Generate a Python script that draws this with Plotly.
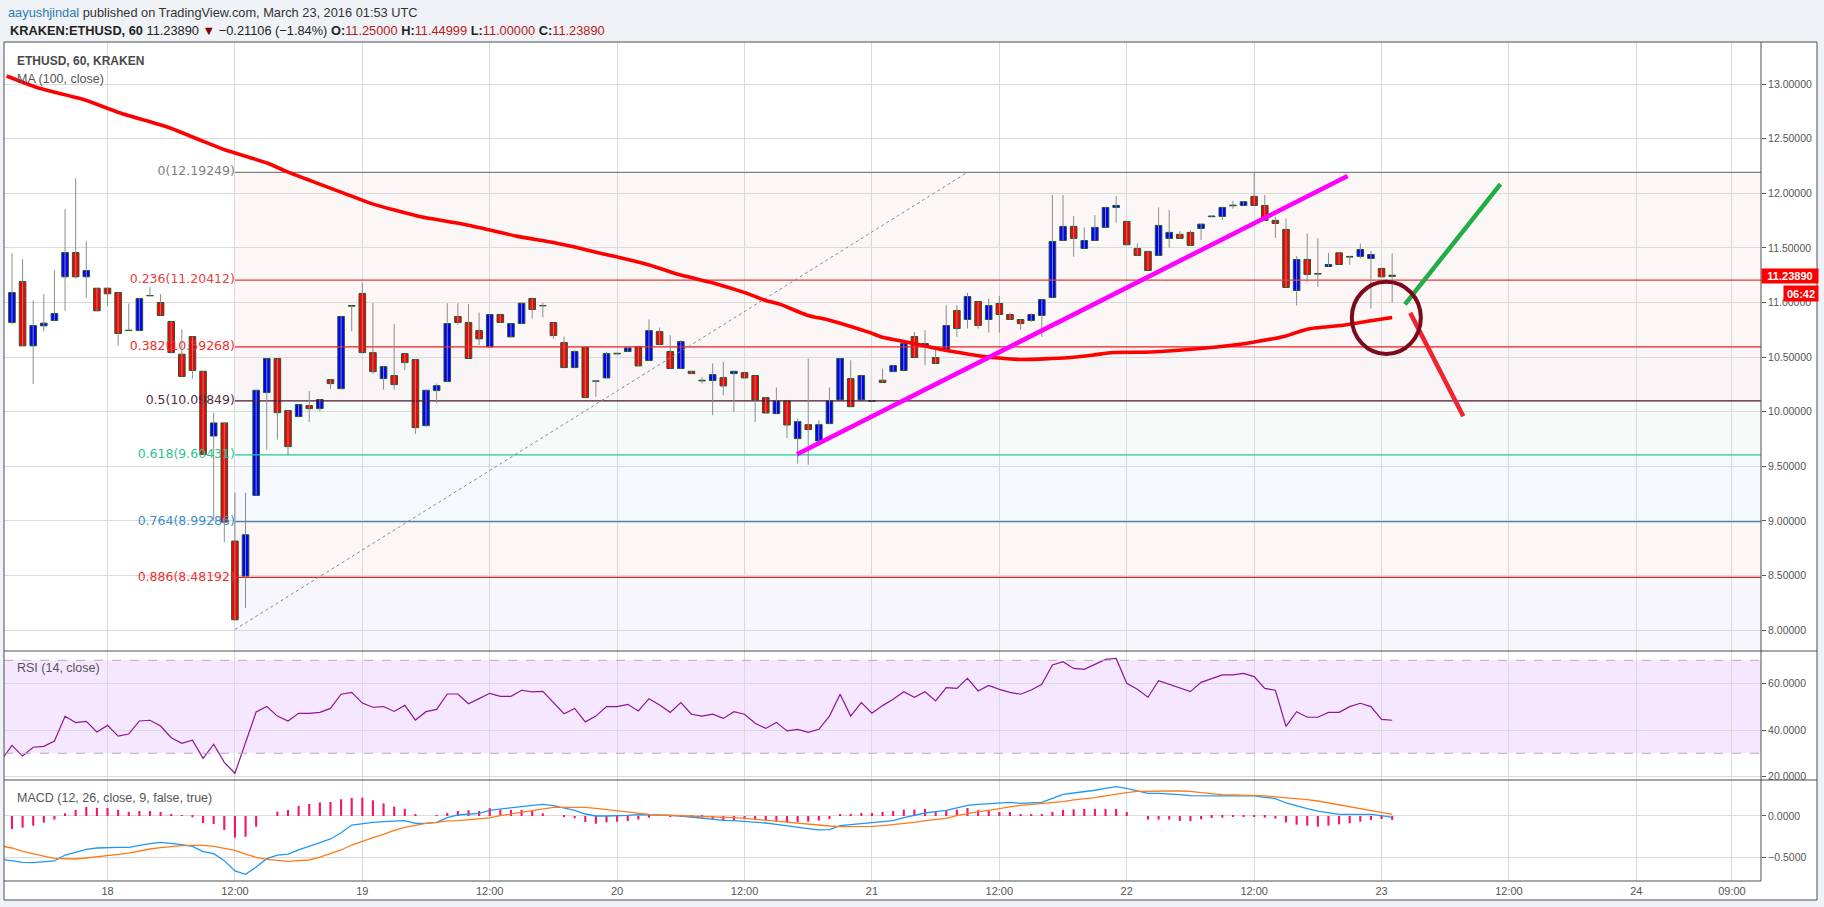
import plotly.graph_objects as go
import pandas as pd

# ---------------- DATA ----------------
first_candle = "2016-03-17 15:00"   # hourly candles (KRAKEN:ETHUSD, 60)
opens = [10.817, 11.192, 10.603, 10.786, 10.835, 11.235, 11.458, 11.235, 11.131, 11.131,
         11.092, 10.743, 10.743, 11.061, 11.000, 10.826, 10.526, 10.688, 10.370, 9.777,
         9.897, 8.815, 8.494, 9.233, 10.175, 10.487, 10.010, 9.955, 10.056, 10.028,
         10.294, 10.211, 10.972, 11.083, 10.541, 10.303, 10.331, 10.532, 10.477, 9.872,
         10.193, 10.276, 10.872, 10.817, 10.743, 10.594, 10.890, 10.685, 10.807, 11.037,
         10.969, 10.817, 10.633, 10.404, 10.587, 10.282, 10.309, 10.535, 10.551, 10.594,
         10.468, 10.734, 10.551, 10.395, 10.370, 10.288, 10.285, 10.312, 10.349, 10.358,
         10.331, 10.129, 9.982, 10.098, 9.753, 9.881, 9.732, 9.891, 10.108, 10.303,
         10.108, 10.095, 10.288, 10.367, 10.377, 10.688, 10.597, 10.496, 10.563, 10.927,
         10.844, 11.009, 10.844, 10.991, 10.890, 10.844, 10.835, 10.881, 11.046, 11.568,
         11.697, 11.495, 11.568, 11.688, 11.871, 11.743, 11.495, 11.468, 11.431, 11.587,
         11.624, 11.642, 11.678, 11.786, 11.788, 11.886, 11.889, 11.972, 11.889, 11.752,
         11.669, 11.110, 11.394, 11.266, 11.330, 11.455, 11.422, 11.422, 11.403, 11.312,
         11.250]
highs = [11.449, 11.397, 11.018, 11.076, 11.296, 11.856, 12.137, 11.565, 11.131, 11.131,
         11.092, 10.991, 11.037, 11.144, 11.076, 10.826, 10.755, 10.688, 10.370, 9.991,
         9.897, 9.258, 9.258, 10.196, 10.487, 10.487, 10.010, 10.065, 10.190, 10.111,
         10.294, 10.872, 10.972, 11.180, 10.997, 10.413, 10.801, 10.532, 10.477, 10.196,
         10.257, 10.994, 10.994, 10.985, 10.908, 10.890, 10.890, 10.807, 10.994, 11.037,
         10.997, 10.817, 10.688, 10.563, 10.587, 10.282, 10.548, 10.541, 10.590, 10.594,
         10.844, 10.771, 10.700, 10.655, 10.370, 10.318, 10.441, 10.456, 10.370, 10.358,
         10.331, 10.129, 10.221, 10.098, 9.936, 10.487, 9.921, 10.221, 10.487, 10.471,
         10.331, 10.104, 10.395, 10.422, 10.624, 10.731, 10.746, 10.578, 10.975, 10.975,
         11.089, 11.009, 11.037, 11.061, 10.908, 10.844, 10.899, 11.027, 11.984, 11.984,
         11.792, 11.688, 11.801, 11.871, 11.975, 11.743, 11.541, 11.468, 11.871, 11.847,
         11.654, 11.663, 11.718, 11.795, 11.871, 11.932, 11.923, 12.189, 11.984, 11.785,
         11.770, 11.425, 11.633, 11.587, 11.455, 11.455, 11.425, 11.541, 11.471, 11.312,
         11.450]
lows = [10.801, 10.603, 10.254, 10.737, 10.835, 10.924, 11.220, 11.043, 10.924, 10.969,
        10.603, 10.743, 10.743, 11.061, 10.881, 10.541, 10.322, 10.303, 9.609, 9.004,
        8.806, 8.094, 8.201, 9.233, 9.652, 9.744, 9.600, 9.955, 9.906, 10.004,
        10.208, 10.211, 10.737, 10.541, 10.346, 10.202, 10.202, 10.380, 9.796, 9.860,
        10.080, 10.276, 10.795, 10.487, 10.609, 10.594, 10.817, 10.685, 10.807, 10.853,
        10.862, 10.667, 10.404, 10.404, 10.129, 10.135, 10.309, 10.525, 10.548, 10.419,
        10.468, 10.615, 10.395, 10.395, 10.349, 10.257, 9.967, 10.150, 9.998, 10.309,
        9.906, 9.988, 9.982, 9.759, 9.524, 9.515, 9.732, 9.891, 10.108, 10.046,
        10.108, 10.092, 10.267, 10.367, 10.377, 10.496, 10.425, 10.441, 10.563, 10.685,
        10.762, 10.762, 10.725, 10.725, 10.844, 10.752, 10.823, 10.685, 11.046, 11.568,
        11.419, 11.495, 11.568, 11.688, 11.733, 11.529, 11.431, 11.293, 11.431, 11.504,
        11.587, 11.523, 11.572, 11.783, 11.755, 11.859, 11.889, 11.889, 11.752, 11.593,
        11.138, 10.972, 11.189, 11.144, 11.330, 11.348, 11.345, 11.403, 10.945, 11.235,
        11.000]
closes = [11.092, 10.603, 10.789, 10.811, 10.899, 11.458, 11.235, 11.293, 10.924, 11.080,
          10.716, 10.746, 11.037, 11.064, 10.881, 10.541, 10.322, 10.377, 9.609, 9.897,
          8.989, 8.094, 8.873, 10.196, 10.487, 9.991, 9.680, 10.065, 10.028, 10.111,
          10.257, 10.872, 10.966, 10.541, 10.367, 10.413, 10.248, 10.450, 9.854, 10.196,
          10.239, 10.807, 10.817, 10.487, 10.667, 10.890, 10.817, 10.807, 10.994, 10.936,
          10.972, 10.697, 10.404, 10.551, 10.129, 10.279, 10.532, 10.529, 10.584, 10.419,
          10.743, 10.615, 10.395, 10.642, 10.349, 10.282, 10.340, 10.236, 10.370, 10.309,
          10.108, 9.988, 10.098, 9.878, 9.909, 9.836, 9.881, 10.098, 10.487, 10.046,
          10.331, 10.101, 10.267, 10.422, 10.624, 10.496, 10.624, 10.441, 10.789, 10.762,
          11.055, 10.789, 10.972, 10.890, 10.844, 10.807, 10.890, 11.027, 11.559, 11.697,
          11.587, 11.568, 11.688, 11.871, 11.889, 11.529, 11.431, 11.293, 11.706, 11.642,
          11.587, 11.523, 11.718, 11.792, 11.871, 11.892, 11.923, 11.889, 11.752, 11.724,
          11.138, 11.394, 11.257, 11.260, 11.348, 11.348, 11.416, 11.486, 11.440, 11.235,
          11.2389]

# MA(100, close) read at sample points (hours from 2016-03-18 00:00)
ma_hours = [-9.5, -6.4, -2.4, 1.2, 5.9, 8.7, 11.1, 15.1, 16.9, 19.8, 22.3, 24.8, 29.5, 33.1,
            36.7, 38.5, 42.1, 43.9, 46.4, 48.2, 51.1, 54.0, 57.2, 60.1, 61.9, 63.3, 65.9,
            68.0, 71.6, 73.1, 75.2, 78.1, 82.4, 86.0, 88.9, 90.7, 92.9, 94.7, 98.3, 102.9,
            105.9, 107.9, 111.0, 113.0, 116.4, 119.0, 121.0]
ma_values = [13.075, 12.962, 12.864, 12.736, 12.598, 12.488, 12.397, 12.275, 12.198, 12.091,
             12.000, 11.908, 11.785, 11.725, 11.648, 11.608, 11.547, 11.510, 11.450, 11.413,
             11.342, 11.251, 11.175, 11.088, 11.021, 10.985, 10.884, 10.838, 10.731, 10.679,
             10.639, 10.579, 10.508, 10.478, 10.487, 10.496, 10.520, 10.542, 10.547, 10.579,
             10.609, 10.636, 10.694, 10.756, 10.792, 10.832, 10.863]

# indicators, hourly from 2016-03-17 14:00
first_indicator = "2016-03-17 14:00"
rsi = [27.0, 33.4, 28.8, 32.6, 33.0, 35.3, 45.9, 43.2, 43.75, 39.2, 42.0, 37.4, 38.3, 43.9,
       44.2, 41.7, 36.7, 34.3, 35.6, 27.8, 33.9, 26.1, 21.4, 34.3, 47.8, 50.1, 46.0, 43.9,
       47.2, 47.2, 47.6, 49.3, 55.4, 56.2, 51.6, 49.8, 50.1, 48.0, 50.6, 44.3, 47.9, 48.9,
       55.5, 55.5, 51.3, 53.5, 55.8, 54.5, 54.5, 57.1, 56.4, 56.6, 51.8, 47.0, 49.3, 43.5,
       46.0, 50.06, 50.06, 51.06, 48.2, 53.5, 50.8, 47.6, 51.8, 46.8, 46.0, 46.8, 45.0, 47.9,
       46.8, 42.9, 40.7, 43.3, 39.6, 40.3, 39.0, 40.3, 46.0, 55.4, 46.0, 51.8, 47.2, 50.5,
       53.2, 56.5, 54.1, 56.5, 52.5, 58.2, 57.9, 62.2, 56.8, 59.2, 57.5, 56.2, 55.4, 57.2,
       59.7, 68.0, 69.4, 66.5, 66.1, 68.3, 70.4, 70.8, 60.1, 57.5, 54.1, 61.2, 59.7, 58.2,
       56.5, 60.5, 62.1, 63.7, 63.7, 64.4, 63.0, 57.9, 57.1, 41.6, 47.9, 45.5, 45.5, 47.6,
       47.6, 50.06, 51.5, 50.06, 44.6, 44.2]
macd = [-0.524, -0.540, -0.560, -0.564, -0.556, -0.544, -0.472, -0.435, -0.403, -0.387,
        -0.379, -0.379, -0.379, -0.355, -0.335, -0.318, -0.330, -0.347, -0.367, -0.431,
        -0.456, -0.540, -0.665, -0.705, -0.617, -0.516, -0.472, -0.460, -0.411, -0.371,
        -0.322, -0.278, -0.202, -0.109, -0.089, -0.077, -0.069, -0.065, -0.056, -0.089,
        -0.089, -0.077, -0.020, 0.012, 0.024, 0.032, 0.069, 0.081, 0.093, 0.113,
        0.129, 0.141, 0.125, 0.093, 0.069, 0.024, 0.000, 0.000, 0.000, 0.008,
        0.016, 0.016, 0.016, 0.008, 0.000, -0.012, -0.032, -0.044, -0.052, -0.056,
        -0.065, -0.073, -0.085, -0.101, -0.121, -0.133, -0.153, -0.169, -0.165, -0.117,
        -0.105, -0.093, -0.089, -0.077, -0.056, -0.020, 0.012, 0.036, 0.052, 0.069,
        0.097, 0.129, 0.141, 0.149, 0.165, 0.165, 0.153, 0.157, 0.165, 0.214,
        0.262, 0.278, 0.290, 0.311, 0.335, 0.355, 0.335, 0.306, 0.274, 0.274,
        0.270, 0.258, 0.246, 0.242, 0.242, 0.242, 0.242, 0.242, 0.242, 0.226,
        0.210, 0.157, 0.121, 0.089, 0.060, 0.036, 0.020, 0.020, 0.020, 0.020,
        0.004, -0.016]
signal = [-0.363, -0.387, -0.428, -0.452, -0.484, -0.512, -0.520, -0.520, -0.508, -0.496,
          -0.484, -0.464, -0.448, -0.423, -0.399, -0.383, -0.367, -0.359, -0.355, -0.355,
          -0.367, -0.387, -0.415, -0.460, -0.500, -0.524, -0.540, -0.548, -0.540, -0.532,
          -0.496, -0.456, -0.411, -0.351, -0.302, -0.262, -0.222, -0.173, -0.137, -0.109,
          -0.089, -0.077, -0.060, -0.056, -0.048, -0.036, -0.024, 0.004, 0.024, 0.052,
          0.069, 0.089, 0.105, 0.105, 0.105, 0.105, 0.093, 0.077, 0.064, 0.048,
          0.032, 0.020, 0.012, 0.008, 0.004, 0.000, 0.000, -0.008, -0.012, -0.020,
          -0.028, -0.040, -0.052, -0.068, -0.081, -0.089, -0.101, -0.109, -0.121, -0.129,
          -0.129, -0.129, -0.125, -0.117, -0.105, -0.089, -0.077, -0.056, -0.040, -0.028,
          0.004, 0.032, 0.052, 0.069, 0.093, 0.109, 0.129, 0.141, 0.145, 0.161,
          0.173, 0.194, 0.206, 0.222, 0.242, 0.266, 0.282, 0.298, 0.302, 0.302,
          0.302, 0.302, 0.298, 0.282, 0.266, 0.258, 0.254, 0.250, 0.250, 0.242,
          0.230, 0.222, 0.210, 0.198, 0.181, 0.157, 0.133, 0.109, 0.085, 0.060,
          0.044, 0.020]
macd_hist = [-0.160, -0.157, -0.141, -0.117, -0.081, -0.044, 0.032, 0.073, 0.109, 0.097,
             0.097, 0.073, 0.048, 0.060, 0.060, 0.048, 0.024, 0.004, -0.016, -0.085,
             -0.097, -0.169, -0.262, -0.250, -0.129, 0.000, 0.052, 0.073, 0.121, 0.145,
             0.165, 0.169, 0.202, 0.218, 0.222, 0.189, 0.153, 0.113, 0.085, 0.024,
             0.000, 0.004, 0.036, 0.060, 0.069, 0.060, 0.093, 0.073, 0.073, 0.073,
             0.064, 0.032, 0.000, -0.008, -0.028, -0.073, -0.093, -0.077, -0.069, -0.060,
             -0.044, -0.020, 0.000, -0.004, -0.004, -0.020, -0.020, -0.036, -0.048, -0.048,
             -0.040, -0.048, -0.056, -0.065, -0.073, -0.073, -0.069, -0.056, -0.036, 0.012,
             0.012, 0.036, 0.036, 0.048, 0.060, 0.077, 0.077, 0.085, 0.060, 0.069,
             0.077, 0.097, 0.069, 0.069, 0.048, 0.048, 0.024, 0.012, 0.012, 0.048,
             0.073, 0.081, 0.085, 0.085, 0.085, 0.085, 0.048, 0.000, -0.044, -0.044,
             -0.044, -0.060, -0.060, -0.040, -0.024, -0.020, -0.008, -0.004, -0.004, -0.020,
             -0.032, -0.077, -0.105, -0.117, -0.129, -0.117, -0.101, -0.089, -0.069, -0.048,
             -0.036, -0.048]

# Fibonacci retracement drawn from the 18th 12:00 low to 12.19249
fib_ratios = ["0", "0.236", "0.382", "0.5", "0.618", "0.764", "0.886"]
fib_prices = [12.19249, 11.20412, 10.59268, 10.09849, 9.60431, 8.99286, 8.48192]
fib_anchor_hours = [12, 81]
fib_anchor_prices = [8.00449, 12.19249]

# hand-drawn annotations (hours from 2016-03-18 00:00, price)
support_line_hours, support_line_prices = [64.95, 116.8], [9.610, 12.158]
up_arrow_hours, up_arrow_prices = [122.2, 131.2], [10.982, 12.085]
down_arrow_hours, down_arrow_prices = [122.7, 127.7], [10.905, 9.958]
circle_hours, circle_prices = [117.2, 123.7], [10.528, 11.191]

last_price = 11.2389
time_tick_hours = [0, 12, 24, 36, 48, 60, 72, 84, 96, 108, 120, 132, 144, 153]
time_tick_text = ["18", "12:00", "19", "12:00", "20", "12:00", "21", "12:00", "22",
                  "12:00", "23", "12:00", "24", "09:00"]

# ---------------- BUILD ----------------
base = pd.Timestamp("2016-03-18 00:00")
def H(h):
    return base + pd.Timedelta(seconds=round(h * 3600))
ctimes = pd.date_range(first_candle, periods=len(opens), freq="h")
itimes = pd.date_range(first_indicator, periods=len(rsi), freq="h")
x_lo, x_hi = H(-9.75), H(155.74)

W, HT = 1824, 907
L, R, T, B = 4, 63, 42, 26
ph = HT - T - B
def py(pix):  # pixel row -> paper y
    return (HT - B - pix) / ph
def px(pix):  # pixel col -> paper x
    return (pix - L) / (W - L - R)

fig = go.Figure()

fib_line_colors = ["#808080", "#e03a3a", "#ee1c1c", "#4a1431", "#24c896", "#3d87c0", "#dd2020"]
fib_text_colors = ["#808080", "#e8413f", "#f0302b", "#5a2a40", "#2cc48e", "#3a8fcf", "#f03030"]
fib_fill = ["#fcf7f7", "#fdf6f6", "#f9f5f6", "#f6fbfa", "#f5f9fd", "#fdf6f6", "#f6f6fc"]
fib_start = H(fib_anchor_hours[0])

shapes = []
shapes.append(dict(type="rect", xref="paper", yref="paper", x0=px(4), x1=px(1817),
                   y0=py(900), y1=py(42), fillcolor="white", line_width=0, layer="below"))
bounds = fib_prices + [7.808]
for i in range(len(fib_prices)):
    shapes.append(dict(type="rect", xref="x", yref="y", x0=fib_start, x1=x_hi,
                       y0=bounds[i + 1], y1=bounds[i], fillcolor=fib_fill[i],
                       line_width=0, layer="below"))
shapes.append(dict(type="rect", xref="x2", yref="y2", x0=x_lo, x1=x_hi, y0=30, y1=70,
                   fillcolor="rgba(153,21,255,0.1)", line_width=0, layer="below"))
for lv in (30, 70):
    shapes.append(dict(type="line", xref="x2", yref="y2", x0=x_lo, x1=x_hi, y0=lv, y1=lv,
                       line=dict(color="#b9a8c2", width=1, dash="dash"), layer="above"))
shapes.append(dict(type="circle", xref="x", yref="y", x0=H(circle_hours[0]), x1=H(circle_hours[1]),
                   y0=circle_prices[0], y1=circle_prices[1],
                   line=dict(color="#7d0a1c", width=4), layer="above"))
fc = "#4f4f4f"
shapes += [
    dict(type="rect", xref="paper", yref="paper", x0=px(4), x1=px(1817), y0=py(900), y1=py(42),
         line=dict(color=fc, width=1), layer="above"),
    dict(type="line", xref="paper", yref="paper", x0=px(1761), x1=px(1761), y0=py(881), y1=py(42),
         line=dict(color=fc, width=1), layer="above"),
    dict(type="line", xref="paper", yref="paper", x0=px(4), x1=px(1817), y0=py(651), y1=py(651),
         line=dict(color=fc, width=1), layer="above"),
    dict(type="line", xref="paper", yref="paper", x0=px(4), x1=px(1817), y0=py(780), y1=py(780),
         line=dict(color=fc, width=1), layer="above"),
    dict(type="line", xref="paper", yref="paper", x0=px(4), x1=px(1761), y0=py(881), y1=py(881),
         line=dict(color=fc, width=1), layer="above"),
]

for p, c in zip(fib_prices, fib_line_colors):
    fig.add_trace(go.Scatter(x=[fib_start, x_hi], y=[p, p], mode="lines",
                             line=dict(color=c, width=1.2), hoverinfo="skip", xaxis="x", yaxis="y"))
fig.add_trace(go.Scatter(x=[fib_start] * len(fib_prices), y=fib_prices, mode="text",
                         text=[f"{r}({p:.5f})" for r, p in zip(fib_ratios, fib_prices)],
                         textposition="middle left",
                         textfont=dict(family="DejaVu Sans", size=12.5, color=fib_text_colors),
                         hoverinfo="skip", xaxis="x", yaxis="y"))
fig.add_trace(go.Scatter(x=[H(h) for h in fib_anchor_hours], y=fib_anchor_prices, mode="lines",
                         line=dict(color="#8a8a8a", width=1, dash="3px,3px"), hoverinfo="skip"))

wx, wy = [], []
for t, lo, hi in zip(ctimes, lows, highs):
    wx += [t, t, None]
    wy += [lo, hi, None]
fig.add_trace(go.Scatter(x=wx, y=wy, mode="lines", line=dict(color="#8c8c8c", width=1),
                         hoverinfo="skip", connectgaps=False))
body_col = ["#0000ff" if c >= o else "#ff0000" for o, c in zip(opens, closes)]
fig.add_trace(go.Bar(x=ctimes, y=[c - o for o, c in zip(opens, closes)], base=opens,
                     width=0.62 * 3600 * 1000, marker=dict(color=body_col,
                     line=dict(color="#1f5a2c", width=1)), hoverinfo="skip"))
fig.add_trace(go.Scatter(x=[H(h) for h in ma_hours], y=ma_values, mode="lines",
                         line=dict(color="#ff0000", width=3.6, shape="spline", smoothing=0.6),
                         hoverinfo="skip"))
fig.add_trace(go.Scatter(x=[H(h) for h in support_line_hours], y=support_line_prices, mode="lines",
                         line=dict(color="#ff00ff", width=4.5), hoverinfo="skip"))
fig.add_trace(go.Scatter(x=[H(h) for h in up_arrow_hours], y=up_arrow_prices, mode="lines",
                         line=dict(color="#22ad46", width=4.5), hoverinfo="skip"))
fig.add_trace(go.Scatter(x=[H(h) for h in down_arrow_hours], y=down_arrow_prices, mode="lines",
                         line=dict(color="#ee2530", width=4.5), hoverinfo="skip"))

fig.add_trace(go.Scatter(x=itimes, y=rsi, mode="lines", line=dict(color="#8e1599", width=1.2),
                         xaxis="x2", yaxis="y2", hoverinfo="skip"))
fig.add_trace(go.Bar(x=itimes, y=macd_hist, width=0.2 * 3600 * 1000, marker=dict(color="#f5156b",
                     line_width=0), xaxis="x3", yaxis="y3", hoverinfo="skip"))
fig.add_trace(go.Scatter(x=itimes, y=macd, mode="lines", line=dict(color="#2196f3", width=1.3),
                         xaxis="x3", yaxis="y3", hoverinfo="skip"))
fig.add_trace(go.Scatter(x=itimes, y=signal, mode="lines", line=dict(color="#ff7a1a", width=1.3),
                         xaxis="x3", yaxis="y3", hoverinfo="skip"))

grid = "#dadada"
tickvals = [H(h) for h in time_tick_hours]
xcommon = dict(range=[x_lo, x_hi], tickvals=tickvals, ticktext=time_tick_text, showgrid=True,
               gridcolor=grid, gridwidth=1, zeroline=False, showline=False, ticks="",
               fixedrange=True)
ycommon = dict(side="right", showgrid=True, gridcolor=grid, zeroline=False, showline=False,
               ticks="outside", ticklen=4, tickcolor="#555555",
               tickfont=dict(family="Liberation Sans", size=10.5, color="#555555"))

d_main = [py(651), 1]
d_rsi = [py(780), py(651)]
d_macd = [0, py(780)]

annotations = [
    dict(xref="paper", yref="paper", x=px(6), y=py(12.3), xanchor="left", yanchor="middle",
         showarrow=False, font=dict(family="Liberation Sans", size=12.8, color="#333333"),
         text='<span style="color:#2e7bb4">aayushjindal</span> published on TradingView.com, March 23, 2016 01:53 UTC'),
    dict(xref="paper", yref="paper", x=px(8), y=py(30), xanchor="left", yanchor="middle",
         showarrow=False, font=dict(family="Liberation Sans", size=12.8, color="#222222"),
         text=('<b>KRAKEN:ETHUSD, 60</b> 11.23890 <span style="color:#8b0000">▼</span> −0.21106 (−1.84%) '
               '<b>O:</b><span style="color:#b71c1c">11.25000</span> <b>H:</b><span style="color:#b71c1c">11.44999</span> '
               '<b>L:</b><span style="color:#b71c1c">11.00000</span> <b>C:</b><span style="color:#b71c1c">11.23890</span>')),
    dict(xref="paper", yref="paper", x=px(15), y=py(61), xanchor="left", yanchor="middle",
         showarrow=False, font=dict(family="Liberation Sans", size=12, color="#4a4a4a"),
         text="<b>ETHUSD, 60, KRAKEN</b>"),
    dict(xref="paper", yref="paper", x=px(15), y=py(78.5), xanchor="left", yanchor="middle",
         showarrow=False, font=dict(family="Liberation Sans", size=12.5, color="#555555"),
         text="MA (100, close)"),
    dict(xref="paper", yref="paper", x=px(15), y=py(668.5), xanchor="left", yanchor="middle",
         showarrow=False, font=dict(family="Liberation Sans", size=12.5, color="#555555"),
         text="RSI (14, close)"),
    dict(xref="paper", yref="paper", x=px(15), y=py(797.5), xanchor="left", yanchor="middle",
         showarrow=False, font=dict(family="Liberation Sans", size=12.5, color="#555555"),
         text="MACD (12, 26, close, 9, false, true)"),
    dict(xref="paper", yref="y", x=px(1761), y=last_price, xanchor="left", yanchor="middle",
         showarrow=False, bgcolor="#ff0000", borderpad=0, width=56, height=14, align="center",
         font=dict(family="Liberation Sans", size=11, color="white"), text="<b>11.23890</b>"),
    dict(xref="paper", yref="paper", x=px(1783), y=py(293.6), xanchor="left", yanchor="middle",
         showarrow=False, bgcolor="#ff0000", borderpad=0, width=34, height=15, align="center",
         font=dict(family="Liberation Sans", size=11, color="white"), text="<b>06:42</b>"),
]

fig.update_layout(
    width=W, height=HT, autosize=False,
    margin=dict(l=L, r=R, t=T, b=B, pad=0),
    paper_bgcolor="#eff2f6", plot_bgcolor="rgba(0,0,0,0)",
    showlegend=False, barmode="overlay", hovermode=False,
    shapes=shapes, annotations=annotations,
    xaxis=dict(**xcommon, domain=[0, 1], anchor="y", showticklabels=False),
    xaxis2=dict(**xcommon, domain=[0, 1], anchor="y2", matches="x", showticklabels=False),
    xaxis3=dict(**xcommon, domain=[0, 1], anchor="y3", matches="x", showticklabels=True,
                tickfont=dict(family="Liberation Sans", size=11, color="#555555"),
                ticklabelstandoff=2),
    yaxis=dict(**ycommon, domain=d_main, anchor="x", range=[7.808, 13.386], dtick=0.5,
               tick0=0, tickformat=".5f"),
    yaxis2=dict(**ycommon, domain=d_rsi, anchor="x2", range=[18.5, 74.0],
                tickvals=[20, 40, 60], tickformat=".4f"),
    yaxis3=dict(**ycommon, domain=d_macd, anchor="x3", range=[-0.786, 0.435],
                tickvals=[-0.5, 0], tickformat=".4f"),
)

fig.write_html("out.html", config={"displayModeBar": False},
               post_script="document.body.style.margin='0px';document.body.style.background='#eff2f6';")
